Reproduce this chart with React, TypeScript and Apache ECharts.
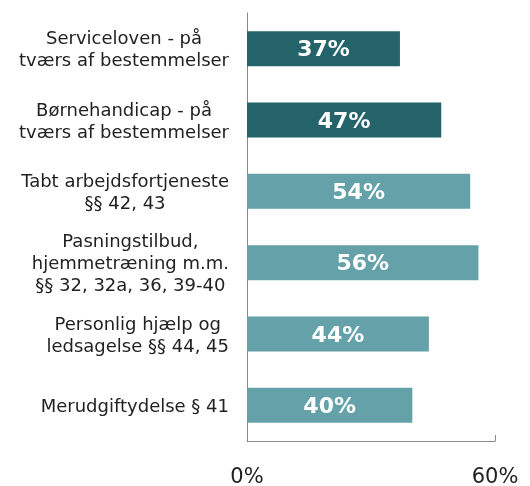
import React, { useEffect, useRef } from "react";
import * as echarts from "echarts";

const categories = [
  "Serviceloven - på\ntværs af bestemmelser",
  "Børnehandicap - på\ntværs af bestemmelser",
  "Tabt arbejdsfortjeneste\n§§ 42, 43",
  "Pasningstilbud,\nhjemmetræning m.m.\n§§ 32, 32a, 36, 39-40",
  "Personlig hjælp og\nledsagelse §§ 44, 45",
  "Merudgiftydelse § 41",
];
const values = [37, 47, 54, 56, 44, 40];
const barColors = ["#25636a", "#25636a", "#64a1a8", "#64a1a8", "#64a1a8", "#64a1a8"];
const axisMin = 0;
const axisMax = 60;

export default function App() {
  const ref = useRef<HTMLDivElement>(null);
  useEffect(() => {
    if (!ref.current) return;
    const chart = echarts.init(ref.current, undefined, { renderer: "svg" });
    chart.setOption({
      animation: false,
      grid: { left: 247, right: 35, top: 13, bottom: 40, containLabel: false },
      xAxis: {
        type: "value",
        min: axisMin,
        max: axisMax,
        interval: 60,
        splitLine: { show: false },
        axisLine: { show: true, lineStyle: { color: "#888888", width: 1 } },
        axisTick: { show: true, inside: true, length: 6, lineStyle: { color: "#888888" } },
        axisLabel: {
          formatter: "{value}%",
          fontFamily: "DejaVu Sans",
          fontSize: 21,
          lineHeight: 21,
          color: "#222222",
          margin: 24,
        },
      },
      yAxis: {
        type: "category",
        data: categories,
        inverse: true,
        axisLine: { show: true, lineStyle: { color: "#888888", width: 1 } },
        axisTick: { show: false },
        axisLabel: {
          align: "right",
          margin: 18,
          fontFamily: "DejaVu Sans",
          fontSize: 18,
          color: "#222222",
          lineHeight: 22,
          formatter: (v: string) =>
            v
              .split("\n")
              .map((l) => `{c|${l}}`)
              .join("\n"),
          rich: {
            c: {
              align: "center",
              fontFamily: "DejaVu Sans",
              fontSize: 18,
              color: "#222222",
              lineHeight: 22,
            },
          },
        },
      },
      series: [
        {
          type: "bar",
          data: values.map((v, i) => ({ value: v, itemStyle: { color: barColors[i] } })),
          barCategoryGap: "51%",
          label: {
            show: true,
            position: "inside",
            formatter: "{c}%",
            color: "#ffffff",
            fontFamily: "DejaVu Sans",
            fontWeight: "bold",
            fontSize: 22,
          },
        },
      ],
    });
    return () => chart.dispose();
  }, []);
  return (
    <div
      ref={ref}
      style={{ position: "fixed", left: 0, top: 0, width: 530, height: 486 }}
    />
  );
}
